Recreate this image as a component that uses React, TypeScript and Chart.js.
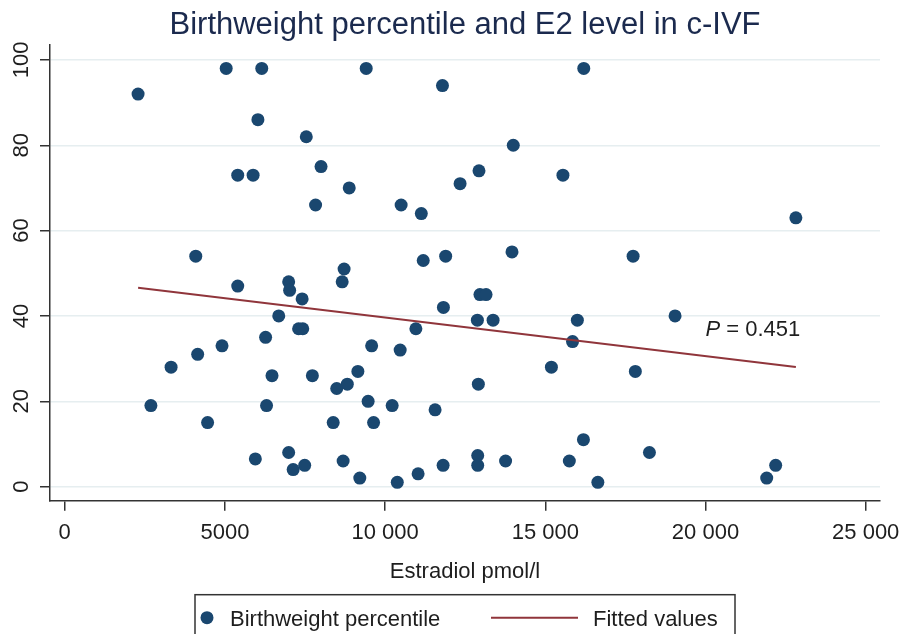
import React, { useEffect, useRef } from 'react';
import { Chart, registerables } from 'chart.js';

Chart.register(...registerables);

// ---- data ----
const estradiol = [
  2290, 5040, 6150, 9410, 16200, 11790, 6030, 7540, 14000, 8000,
  5400, 5880, 15550, 12930, 12340, 8880, 7830, 10500, 11130, 22820,
  4090, 11890, 11190, 13960, 17740, 8720, 6990, 8660, 5400, 7020,
  12960, 13150, 7410, 11820, 6680, 19050, 12880, 13370, 16000, 7300,
  7430, 10960, 6270, 15850, 4910, 9580, 10470, 4150, 3320, 15190,
  9150, 17810, 6470, 7730, 12910, 8820, 8490, 9470, 2690, 6300,
  10220, 11560, 4460, 8380, 9640, 16190, 18250, 6990, 5950, 12890,
  8690, 13760, 15750, 7490, 11810, 12890, 22190, 7130, 11030, 9210,
  21910, 10380, 16640,
];
const percentile = [
  92, 98, 98, 98, 98, 94, 86, 82, 80, 75,
  73, 73, 73, 74, 71, 70, 66, 66, 64, 63,
  54, 54, 53, 55, 54, 51, 48, 48, 47, 46,
  45, 45, 44, 42, 40, 40, 39, 39, 39, 37,
  37, 37, 35, 34, 33, 33, 32, 31, 28, 28,
  27, 27, 26, 26, 24, 24, 23, 20, 19, 19,
  19, 18, 15, 15, 15, 11, 8, 8, 6.5, 7.3,
  6, 6, 6, 5, 5, 5, 5, 4, 3, 2,
  2, 1, 1,
];
const fitX = [2290, 22820];
const fitY = [46.6, 28.05];

const xTicks = [0, 5000, 10000, 15000, 20000, 25000];
const xTickLabels = ['0', '5000', '10 000', '15 000', '20 000', '25 000'];
const yTicks = [0, 20, 40, 60, 80, 100];
const yTickLabels = ['0', '20', '40', '60', '80', '100'];

const chartTitle = 'Birthweight percentile and E2 level in c-IVF';
const xAxisTitle = 'Estradiol pmol/l';
const seriesNames = ['Birthweight percentile', 'Fitted values'];
const pLabelItalic = 'P';
const pLabelRest = ' = 0.451';
const pLabelAt = [20000, 37];

// ---- styles ----
const FONT = '"Liberation Sans", Arial, Helvetica, sans-serif';
const NAVY = '#1a476f';
const MAROON = '#90353b';
const AXIS = '#333333';
const TEXT = '#1e1e1e';
const GRID = '#e6eef0';

const overlay = {
  id: 'overlay',
  afterDraw(chart: any) {
    const { ctx, chartArea: ca, scales } = chart;
    const xs = scales.x;
    const ys = scales.y;
    const cx = (ca.left + ca.right) / 2;
    ctx.save();

    // title
    ctx.fillStyle = '#1b2a4e';
    ctx.font = `31px ${FONT}`;
    ctx.textAlign = 'center';
    ctx.textBaseline = 'alphabetic';
    ctx.fillText(chartTitle, cx, 33.5);

    // y tick labels (rotated)
    ctx.fillStyle = TEXT;
    ctx.font = `22px ${FONT}`;
    yTicks.forEach((v, i) => {
      const py = ys.getPixelForValue(v);
      ctx.save();
      ctx.translate(ca.left - 21.6, py);
      ctx.rotate(-Math.PI / 2);
      ctx.textAlign = 'center';
      ctx.textBaseline = 'alphabetic';
      ctx.fillText(yTickLabels[i], 0, 0);
      ctx.restore();
    });

    // x tick labels
    ctx.textAlign = 'center';
    ctx.textBaseline = 'alphabetic';
    xTicks.forEach((v, i) => {
      ctx.fillText(xTickLabels[i], xs.getPixelForValue(v), ca.bottom + 38.6);
    });

    // x axis title
    ctx.fillText(xAxisTitle, cx, ca.bottom + 77);

    // P annotation
    const px = xs.getPixelForValue(pLabelAt[0]);
    const py = ys.getPixelForValue(pLabelAt[1]);
    ctx.textAlign = 'left';
    ctx.font = `italic 22px ${FONT}`;
    ctx.fillText(pLabelItalic, px, py + 7.5);
    const w = ctx.measureText(pLabelItalic).width;
    ctx.font = `22px ${FONT}`;
    ctx.fillText(pLabelRest, px + w, py + 7.5);

    // legend
    const left = cx - 270;
    const top = ca.bottom + 94;
    ctx.strokeStyle = AXIS;
    ctx.lineWidth = 1.5;
    ctx.strokeRect(left, top, 540, 60);
    const rowY = top + 23;
    ctx.fillStyle = NAVY;
    ctx.beginPath();
    ctx.arc(left + 12, rowY, 6.5, 0, Math.PI * 2);
    ctx.fill();
    ctx.fillStyle = TEXT;
    ctx.font = `22px ${FONT}`;
    ctx.textBaseline = 'alphabetic';
    ctx.fillText(seriesNames[0], left + 35, rowY + 8);
    ctx.strokeStyle = MAROON;
    ctx.lineWidth = 2;
    ctx.beginPath();
    ctx.moveTo(left + 296, rowY);
    ctx.lineTo(left + 383, rowY);
    ctx.stroke();
    ctx.fillText(seriesNames[1], left + 398, rowY + 8);

    ctx.restore();
  },
};

export default function App() {
  const ref = useRef<HTMLCanvasElement | null>(null);

  useEffect(() => {
    if (!ref.current) return;
    const chart = new Chart(ref.current, {
      type: 'scatter',
      data: {
        datasets: [
          {
            label: seriesNames[0],
            data: estradiol.map((x, i) => ({ x, y: percentile[i] })),
            backgroundColor: NAVY,
            borderWidth: 0,
            pointRadius: 6.5,
            pointHoverRadius: 6.5,
            order: 1,
          },
          {
            label: seriesNames[1],
            type: 'line',
            data: fitX.map((x, i) => ({ x, y: fitY[i] })),
            borderColor: MAROON,
            borderWidth: 2,
            pointRadius: 0,
            showLine: true,
            fill: false,
            order: 0,
          } as any,
        ],
      },
      options: {
        animation: false,
        responsive: false,
        devicePixelRatio: 1,
        events: [],
        layout: { padding: { top: 45, right: 19, left: 0, bottom: 0 } },
        plugins: {
          legend: { display: false },
          title: { display: false },
          tooltip: { enabled: false },
        },
        scales: {
          x: {
            type: 'linear',
            min: -459,
            max: 25446,
            afterBuildTicks: (s: any) => {
              s.ticks = xTicks.map((v) => ({ value: v }));
            },
            afterFit: (s: any) => {
              s.height = 133.3;
            },
            ticks: { display: false },
            grid: {
              display: true,
              drawOnChartArea: false,
              drawTicks: true,
              tickLength: 10,
              tickColor: AXIS,
              tickWidth: 1.5,
              color: AXIS,
              lineWidth: 1.5,
            },
            border: { display: true, color: AXIS, width: 1.5 },
          },
          y: {
            type: 'linear',
            min: -3.3,
            max: 103.5,
            afterBuildTicks: (s: any) => {
              s.ticks = yTicks.map((v) => ({ value: v }));
            },
            afterFit: (s: any) => {
              s.width = 50;
            },
            ticks: { display: false },
            grid: {
              display: true,
              drawOnChartArea: true,
              drawTicks: true,
              tickLength: 10,
              tickColor: AXIS,
              tickWidth: 1.5,
              color: GRID,
              lineWidth: 1.5,
            },
            border: { display: true, color: AXIS, width: 1.5 },
          },
        },
      },
      plugins: [overlay],
    });
    return () => chart.destroy();
  }, []);

  return (
    <div style={{ position: 'absolute', left: 0, top: 0, width: 899, height: 634, background: '#fff' }}>
      <canvas ref={ref} width={899} height={634} style={{ width: 899, height: 634, display: 'block' }} />
    </div>
  );
}
